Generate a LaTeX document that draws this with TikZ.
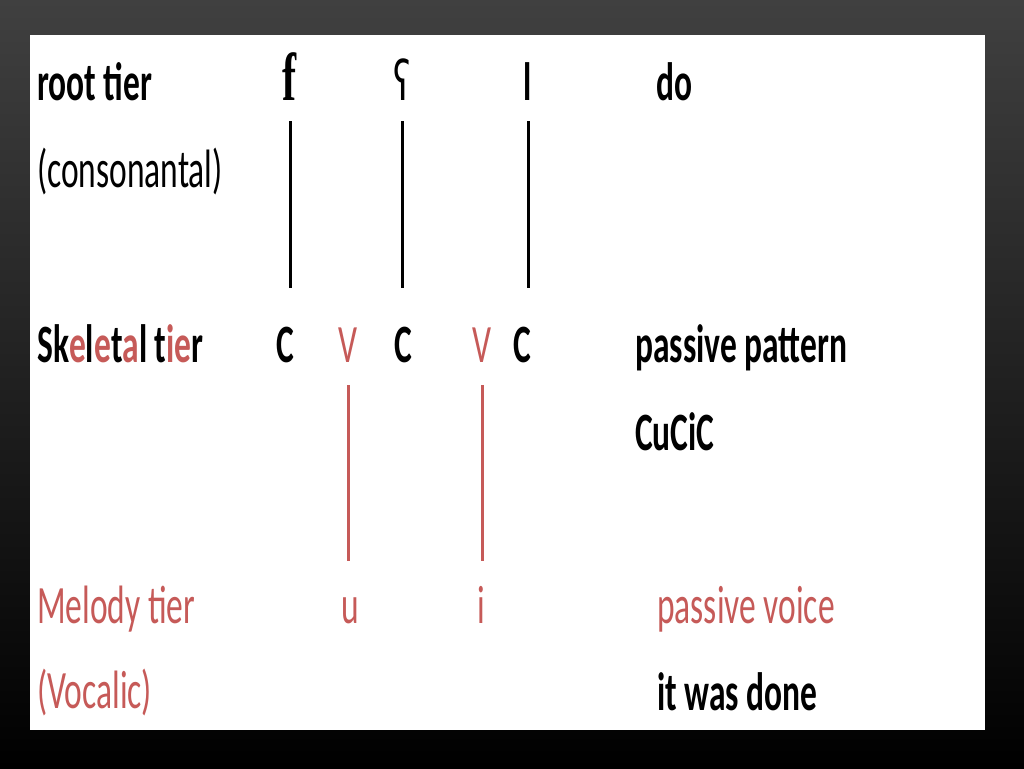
\documentclass[tikz,border=0pt]{standalone}
\usepackage{fontspec}
\setmainfont{Carlito}[FakeStretch=0.62]
\newfontfamily\ipafont{DejaVu Sans}[FakeStretch=0.62]
\newfontfamily\serfont{Liberation Serif}[FakeStretch=0.62]
\usetikzlibrary{positioning}
\definecolor{bgtop}{HTML}{404040}
\definecolor{melody}{HTML}{C65A58}
\newcommand{\hl}[1]{\textcolor{melody}{#1}}

\begin{document}
\begin{tikzpicture}[
    x=1pt, y=-1pt,
    font=\fontsize{54}{60}\selectfont,
    lbl/.style = {anchor=base west, inner sep=0pt},
    seg/.style = {anchor=base, inner sep=0pt, text height=32pt, text depth=0pt},
    vow/.style = {text=melody},
    assoc/.style = {line width=3pt, shorten <=21pt, shorten >=42pt},
    vassoc/.style = {melody, line width=3pt, shorten <=23pt, shorten >=30pt}
    ]

  \shade[top color=bgtop, middle color=black, bottom color=black] (0,0) rectangle (1024,768);
  \fill[white] (30,35) rectangle (985,730);
  \useasboundingbox (0,0) rectangle (1024,768);

  % root tier
  \node[lbl] (root) at (37,100) {\textbf{root tier}};
  \node[lbl] (cons) at (37,187) {(consonantal)};
  \node[seg] (f) at (290,100) {\fontsize{68}{70}\serfont\bfseries f};
  \node[seg] (ain) at (402,100) {\fontsize{55}{60}\ipafont ʕ};
  \node[seg] (lr) at (528,100) {\textbf{l}};
  \node[lbl] (do) at (656,100) {\textbf{do}};

  % skeletal tier
  \node[lbl] (skel) at (37,362) {\textbf{Sk\hl{e}l\hl{e}t\hl{a}l t\hl{ie}r}};
  \node[seg] (c1) at (285,362) {\textbf{C}};
  \node[seg, vow] (v1) at (348,362) {V};
  \node[seg] (c2) at (403,362) {\textbf{C}};
  \node[seg, vow] (v2) at (482,362) {V};
  \node[seg] (c3) at (522,362) {\textbf{C}};
  \node[lbl] (pattern) at (635,362) {\textbf{passive pattern}};
  \node[lbl] (cucic) at (635,450) {\textbf{CuCiC}};

  % melody tier
  \node[lbl, vow] (melody) at (37,623) {Melody tier};
  \node[lbl, vow] (vocalic) at (37,708) {(Vocalic)};
  \node[seg, vow] (u) at (350,623) {u};
  \node[seg, vow] (i) at (481,623) {i};
  \node[lbl, vow] (voice) at (657,623) {passive voice};
  \node[lbl] (done) at (657,710) {\textbf{it was done}};

  \draw[assoc]
  (f.south) edge (f.south |- c1.north)
  (ain.south) edge (ain.south |- c2.north)
  (lr.south) edge (lr.south |- c3.north);

  \draw[vassoc]
  (v1.south) edge (v1.south |- u.north)
  (v2.south) edge (v2.south |- i.north);
\end{tikzpicture}
\end{document}
